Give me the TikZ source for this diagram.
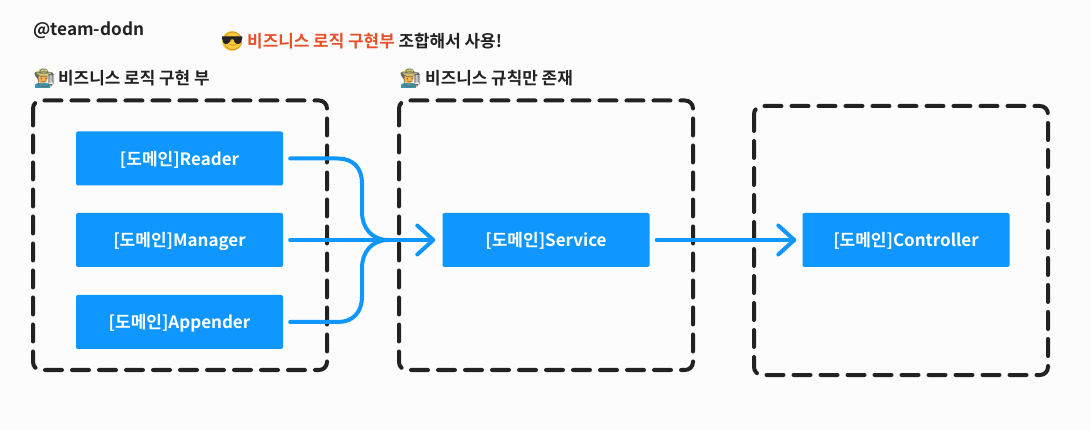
\documentclass[tikz,border=0pt]{standalone}
\usepackage{fontspec}
\setmainfont{Noto Sans CJK KR Bold}
\newfontfamily\emojifont{Noto Emoji}
\usetikzlibrary{arrows.meta,positioning}
\definecolor{bluebox}{HTML}{0F97FF}
\definecolor{inkc}{HTML}{222222}
\definecolor{redc}{HTML}{E8502A}
\definecolor{bgc}{HTML}{FCFCFC}
\definecolor{emoY}{HTML}{FBC83C}
\definecolor{skin}{HTML}{F6B24C}
\definecolor{hatc}{HTML}{CFC86A}
\definecolor{teal}{HTML}{3E93A8}
\tikzset{
 x=1pt,y=-1pt,
 dashbox/.style={draw=inkc,line width=4pt,rounded corners=8pt,dash pattern=on 17pt off 10pt,line cap=round},
 bluenode/.style={fill=bluebox,rounded corners=2pt,minimum width=207pt,minimum height=54pt,inner sep=0pt,text=white,text height=14pt,text depth=0pt,font=\fontsize{17}{20}\selectfont},
 lbl/.style={inner sep=0pt,anchor=west,text=inkc,font=\fontsize{16.9}{20}\selectfont},
 flow/.style={draw=bluebox,line width=4pt,line cap=round,line join=round},
 flowtip/.style={flow,-{Straight Barb[length=16pt,width=29pt,line width=4pt,round]}},
 farmer/.pic={
  \fill[teal] (-7.5,10) -- (-7.5,7) .. controls (-7,4) and (7,4) .. (7.5,7) -- (7.5,10) -- cycle;
  \fill[skin] (0,0) circle (5.5);
  \fill[hatc] (0,-5) ellipse (8 and 2.5);
  \fill[hatc] (0,-6) ellipse (4.5 and 3.5);
 },
}
\begin{document}
\begin{tikzpicture}
\useasboundingbox (0,0) rectangle (1090,430);
\fill[bgc] (0,0) rectangle (1090,430);
\draw[dashbox] (33,100.5) rectangle (327,370);
\draw[dashbox] (399,100.5) rectangle (693,370);
\draw[dashbox] (754,106) rectangle (1048,375);
\node[bluenode] (reader) at (179.5,158.5) {[도메인]Reader};
\node[bluenode] (manager) at (179.5,240) {[도메인]Manager};
\node[bluenode] (appender) at (179.5,322) {[도메인]Appender};
\node[bluenode] (service) at (546,240) {[도메인]Service};
\node[bluenode] (controller) at (906,240) {[도메인]Controller};
\node[lbl,font=\fontsize{17.2}{20}\selectfont] (team) at (33,30.5) {@team-dodn};
% sunglasses face
\fill[emoY] (232,41) circle (10);
\node[lbl] (emo1) at (221.5,41) {\emojifont\fontsize{18}{20}\selectfont\textcolor{emoY!70!black}{😎}};
\fill[inkc] (222,36.5) -- (242,36.5) -- (242,38.5) -- (240.5,43) .. controls (238,45) and (234.5,44) .. (233.5,39.5) -- (230.5,39.5) .. controls (229.5,44) and (226,45) .. (223.5,43) -- (222,38.5) -- cycle;
\node[lbl] (headline) at (247,41.5) {\textcolor{redc}{비즈니스 로직 구현부} 조합해서 사용!};
\pic at (42.5,78) {farmer};
\pic at (408.5,78) {farmer};
\node[lbl] (emo2) at (33,78) {\emojifont\fontsize{18}{20}\selectfont\textcolor{inkc!70}{🧑‍🌾}};
\node[lbl] (title1) at (58,78) {비즈니스 로직 구현 부};
\node[lbl] (emo3) at (399,78) {\emojifont\fontsize{18}{20}\selectfont\textcolor{inkc!70}{🧑‍🌾}};
\node[lbl] (title2) at (425,78) {비즈니스 규칙만 존재};
\coordinate (join) at ([xshift=-7pt]service.west);
\coordinate (s1) at ([xshift=7pt]reader.east);
\coordinate (s2) at ([xshift=7pt]manager.east);
\coordinate (s3) at ([xshift=7pt]appender.east);
\draw[flow] (s1) -- (338,158.5) .. controls (353,158.5) and (362,168) .. (362,183) -- (362,212) .. controls (362,228) and (372,240) .. (388,240);
\draw[flow] (s3) -- (338,322) .. controls (353,322) and (362,312) .. (362,297) -- (362,268) .. controls (362,252) and (372,240) .. (388,240);
\draw[flowtip] (s2) -- (join);
\draw[flowtip] ([xshift=7pt]service.east) -- ([xshift=-6pt]controller.west);
\end{tikzpicture}
\end{document}
